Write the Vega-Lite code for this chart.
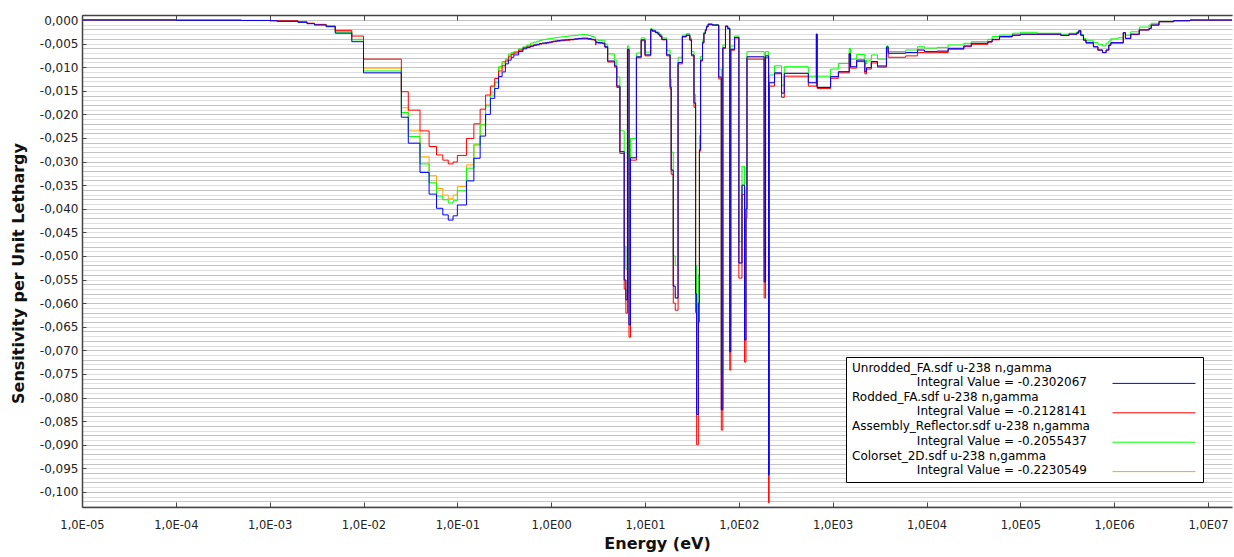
{
  "$schema": "https://vega.github.io/schema/vega-lite/v6.json",
  "width": 1150,
  "height": 492,
  "autosize": {"type": "none"},
  "padding": {"left": 82, "top": 15, "right": 2, "bottom": 50},
  "background": "white",
  "config": {
    "font": "DejaVu Sans",
    "view": {"stroke": null},
    "style": {"guide-label": {"lineHeight": 14.6}}
  },
  "data": {"values": [
    {"e": 1e-5, "B": 0, "R": 0, "G": 0, "O": 0},
    {"e": 1e-4, "B": -0.00007, "R": -0.00002, "G": -0.00006, "O": -0.00006},
    {"e": 5e-4, "B": -0.0001, "R": -0.0001, "G": -0.0001, "O": -0.0001},
    {"e": 1e-3, "B": -0.00015, "R": -0.00012, "G": -0.00015, "O": -0.00015},
    {"e": 1.2e-3, "B": -0.00028, "R": -0.00015, "G": -0.00026, "O": -0.00026},
    {"e": 2e-3, "B": -0.00049, "R": -0.00038, "G": -0.00045, "O": -0.00045},
    {"e": 2.5e-3, "B": -0.00078, "R": -0.00068, "G": -0.00074, "O": -0.00074},
    {"e": 3e-3, "B": -0.00106, "R": -0.00092, "G": -0.001, "O": -0.001},
    {"e": 4e-3, "B": -0.00142, "R": -0.00127, "G": -0.00138, "O": -0.00138},
    {"e": 5e-3, "B": -0.0028, "R": -0.0022, "G": -0.0026, "O": -0.00245},
    {"e": 7.5e-3, "B": -0.0046, "R": -0.0034, "G": -0.0042, "O": -0.0041},
    {"e": 0.01, "B": -0.0112, "R": -0.0083, "G": -0.0108, "O": -0.0102},
    {"e": 0.0253, "B": -0.0206, "R": -0.0152, "G": -0.0196, "O": -0.0186},
    {"e": 0.03, "B": -0.0261, "R": -0.0191, "G": -0.0247, "O": -0.0235},
    {"e": 0.04, "B": -0.0323, "R": -0.0235, "G": -0.0305, "O": -0.029},
    {"e": 0.05, "B": -0.0369, "R": -0.0268, "G": -0.0345, "O": -0.033},
    {"e": 0.06, "B": -0.0399, "R": -0.0286, "G": -0.0373, "O": -0.0357},
    {"e": 0.07, "B": -0.0413, "R": -0.0297, "G": -0.0381, "O": -0.0371},
    {"e": 0.08, "B": -0.0424, "R": -0.0305, "G": -0.0388, "O": -0.0379},
    {"e": 0.09, "B": -0.0415, "R": -0.0301, "G": -0.0383, "O": -0.0371},
    {"e": 0.1, "B": -0.0392, "R": -0.0287, "G": -0.0362, "O": -0.0353},
    {"e": 0.125, "B": -0.0341, "R": -0.0251, "G": -0.0314, "O": -0.0307},
    {"e": 0.15, "B": -0.0293, "R": -0.022, "G": -0.0265, "O": -0.0263},
    {"e": 0.175, "B": -0.0246, "R": -0.0189, "G": -0.0222, "O": -0.0222},
    {"e": 0.2, "B": -0.02, "R": -0.0159, "G": -0.0182, "O": -0.018},
    {"e": 0.225, "B": -0.0166, "R": -0.014, "G": -0.0159, "O": -0.0153},
    {"e": 0.25, "B": -0.0145, "R": -0.0124, "G": -0.0133, "O": -0.0131},
    {"e": 0.275, "B": -0.012, "R": -0.0108, "G": -0.0099, "O": -0.0102},
    {"e": 0.3, "B": -0.011, "R": -0.0097, "G": -0.0088, "O": -0.0091},
    {"e": 0.325, "B": -0.0093, "R": -0.0087, "G": -0.0083, "O": -0.0085},
    {"e": 0.35, "B": -0.0085, "R": -0.0078, "G": -0.0072, "O": -0.0075},
    {"e": 0.375, "B": -0.0079, "R": -0.0073, "G": -0.0069, "O": -0.0071},
    {"e": 0.4, "B": -0.0074, "R": -0.007, "G": -0.0067, "O": -0.0069},
    {"e": 0.45, "B": -0.0067, "R": -0.0064, "G": -0.0061, "O": -0.0063},
    {"e": 0.5, "B": -0.0061, "R": -0.0059, "G": -0.0057, "O": -0.0058},
    {"e": 0.55, "B": -0.0058, "R": -0.0057, "G": -0.0053, "O": -0.0055},
    {"e": 0.6, "B": -0.0055, "R": -0.0056, "G": -0.0049, "O": -0.0053},
    {"e": 0.65, "B": -0.0053, "R": -0.0054, "G": -0.0047, "O": -0.0052},
    {"e": 0.7, "B": -0.00515, "R": -0.0053, "G": -0.0045, "O": -0.00515},
    {"e": 0.75, "B": -0.005, "R": -0.0051, "G": -0.0043, "O": -0.005},
    {"e": 0.8, "B": -0.0049, "R": -0.005, "G": -0.0042, "O": -0.0049},
    {"e": 0.85, "B": -0.00485, "R": -0.005, "G": -0.0041, "O": -0.00485},
    {"e": 0.9, "B": -0.00475, "R": -0.0049, "G": -0.004, "O": -0.00475},
    {"e": 0.95, "B": -0.0047, "R": -0.0048, "G": -0.00395, "O": -0.0047},
    {"e": 1.0, "B": -0.0046, "R": -0.0047, "G": -0.0039, "O": -0.0046},
    {"e": 1.05, "B": -0.0045, "R": -0.0046, "G": -0.0038, "O": -0.0045},
    {"e": 1.1, "B": -0.00445, "R": -0.0046, "G": -0.00375, "O": -0.00445},
    {"e": 1.15, "B": -0.0044, "R": -0.0045, "G": -0.0037, "O": -0.0044},
    {"e": 1.2, "B": -0.00435, "R": -0.0045, "G": -0.00365, "O": -0.00435},
    {"e": 1.25, "B": -0.0043, "R": -0.0044, "G": -0.0036, "O": -0.0043},
    {"e": 1.3, "B": -0.00425, "R": -0.0044, "G": -0.00355, "O": -0.00425},
    {"e": 1.4, "B": -0.0042, "R": -0.0043, "G": -0.0035, "O": -0.0042},
    {"e": 1.5, "B": -0.00415, "R": -0.0043, "G": -0.0034, "O": -0.00415},
    {"e": 1.59, "B": -0.0041, "R": -0.0042, "G": -0.00335, "O": -0.0041},
    {"e": 1.77, "B": -0.004, "R": -0.0041, "G": -0.00325, "O": -0.004},
    {"e": 1.94, "B": -0.0039, "R": -0.004, "G": -0.00315, "O": -0.0039},
    {"e": 2.12, "B": -0.00385, "R": -0.004, "G": -0.00305, "O": -0.00385},
    {"e": 2.3, "B": -0.00385, "R": -0.004, "G": -0.0031, "O": -0.00385},
    {"e": 2.47, "B": -0.00395, "R": -0.0041, "G": -0.0033, "O": -0.00395},
    {"e": 2.67, "B": -0.0041, "R": -0.0042, "G": -0.0035, "O": -0.0041},
    {"e": 2.87, "B": -0.0042, "R": -0.0043, "G": -0.00375, "O": -0.0042},
    {"e": 2.97, "B": -0.0044, "R": -0.0053, "G": -0.004, "O": -0.0044},
    {"e": 3.0, "B": -0.0047, "R": -0.0048, "G": -0.0042, "O": -0.0047},
    {"e": 3.15, "B": -0.0048, "R": -0.0049, "G": -0.0043, "O": -0.0048},
    {"e": 3.5, "B": -0.0049, "R": -0.005, "G": -0.0044, "O": -0.0049},
    {"e": 3.73, "B": -0.00566, "R": -0.0058, "G": -0.0051, "O": -0.00566},
    {"e": 4.0, "B": -0.0087, "R": -0.0089, "G": -0.0072, "O": -0.0087},
    {"e": 4.75, "B": -0.00975, "R": -0.01, "G": -0.0085, "O": -0.00975},
    {"e": 5.0, "B": -0.014, "R": -0.0143, "G": -0.0121, "O": -0.014},
    {"e": 5.4, "B": -0.0279, "R": -0.0283, "G": -0.0235, "O": -0.0279},
    {"e": 6.0, "B": -0.0551, "R": -0.057, "G": -0.048, "O": -0.0551},
    {"e": 6.25, "B": -0.0593, "R": -0.0621, "G": -0.0528, "O": -0.0593},
    {"e": 6.5, "B": -0.0062, "R": -0.0063, "G": -0.0055, "O": -0.0062},
    {"e": 6.75, "B": -0.0646, "R": -0.0672, "G": -0.058, "O": -0.0646},
    {"e": 7.0, "B": -0.0292, "R": -0.0297, "G": -0.0251, "O": -0.0292},
    {"e": 8.1, "B": -0.0078, "R": -0.008, "G": -0.007, "O": -0.0078},
    {"e": 9.1, "B": -0.0042, "R": -0.0044, "G": -0.0038, "O": -0.0042},
    {"e": 10, "B": -0.0074, "R": -0.0076, "G": -0.0068, "O": -0.0074},
    {"e": 11.5, "B": -0.002, "R": -0.0021, "G": -0.0018, "O": -0.002},
    {"e": 11.9, "B": -0.0023, "R": -0.0024, "G": -0.0021, "O": -0.0023},
    {"e": 12.9, "B": -0.00265, "R": -0.0027, "G": -0.0024, "O": -0.00265},
    {"e": 13.75, "B": -0.003, "R": -0.0031, "G": -0.0027, "O": -0.003},
    {"e": 14.4, "B": -0.0034, "R": -0.0035, "G": -0.0031, "O": -0.0034},
    {"e": 15.1, "B": -0.0041, "R": -0.0042, "G": -0.0038, "O": -0.0041},
    {"e": 17, "B": -0.0074, "R": -0.0076, "G": -0.0064, "O": -0.0074},
    {"e": 18.5, "B": -0.0142, "R": -0.0146, "G": -0.0125, "O": -0.0142},
    {"e": 19, "B": -0.0318, "R": -0.0327, "G": -0.028, "O": -0.0318},
    {"e": 20, "B": -0.0564, "R": -0.06, "G": -0.05, "O": -0.0564},
    {"e": 21, "B": -0.0589, "R": -0.0615, "G": -0.052, "O": -0.0589},
    {"e": 22.5, "B": -0.009, "R": -0.0093, "G": -0.0079, "O": -0.009},
    {"e": 25, "B": -0.0035, "R": -0.0036, "G": -0.0032, "O": -0.0035},
    {"e": 27.5, "B": -0.0032, "R": -0.0033, "G": -0.0029, "O": -0.0032},
    {"e": 30, "B": -0.0042, "R": -0.0043, "G": -0.0038, "O": -0.0042},
    {"e": 31.25, "B": -0.0074, "R": -0.0076, "G": -0.0067, "O": -0.0074},
    {"e": 33.25, "B": -0.0176, "R": -0.0185, "G": -0.0158, "O": -0.0176},
    {"e": 34.6, "B": -0.058, "R": -0.062, "G": -0.052, "O": -0.058},
    {"e": 35.5, "B": -0.0836, "R": -0.09, "G": -0.0756, "O": -0.0836},
    {"e": 37, "B": -0.06, "R": -0.064, "G": -0.054, "O": -0.06},
    {"e": 38, "B": -0.0275, "R": -0.0278, "G": -0.0245, "O": -0.0275},
    {"e": 39.1, "B": -0.0085, "R": -0.0087, "G": -0.0077, "O": -0.0085},
    {"e": 41, "B": -0.0048, "R": -0.0049, "G": -0.0044, "O": -0.0048},
    {"e": 42.4, "B": -0.0028, "R": -0.0029, "G": -0.0026, "O": -0.0028},
    {"e": 44, "B": -0.0021, "R": -0.0022, "G": -0.0019, "O": -0.0021},
    {"e": 45.2, "B": -0.0014, "R": -0.0015, "G": -0.0012, "O": -0.0014},
    {"e": 47, "B": -0.0009, "R": -0.001, "G": -0.0008, "O": -0.0009},
    {"e": 52, "B": -0.00106, "R": -0.0011, "G": -0.001, "O": -0.00106},
    {"e": 61, "B": -0.0121, "R": -0.0125, "G": -0.0104, "O": -0.0121},
    {"e": 65, "B": -0.0826, "R": -0.0869, "G": -0.075, "O": -0.0826},
    {"e": 67.5, "B": -0.0059, "R": -0.006, "G": -0.0053, "O": -0.0059},
    {"e": 72, "B": -0.0013, "R": -0.0014, "G": -0.0012, "O": -0.0013},
    {"e": 76, "B": -0.0018, "R": -0.0019, "G": -0.0016, "O": -0.0018},
    {"e": 80, "B": -0.0703, "R": -0.0742, "G": -0.065, "O": -0.0703},
    {"e": 82, "B": -0.0062, "R": -0.0064, "G": -0.0055, "O": -0.0062},
    {"e": 90, "B": -0.0037, "R": -0.0038, "G": -0.0034, "O": -0.0037},
    {"e": 100, "B": -0.0515, "R": -0.0547, "G": -0.047, "O": -0.0515},
    {"e": 108, "B": -0.035, "R": -0.037, "G": -0.031, "O": -0.035},
    {"e": 115, "B": -0.0678, "R": -0.0725, "G": -0.06, "O": -0.0678},
    {"e": 119, "B": -0.04, "R": -0.042, "G": -0.036, "O": -0.04},
    {"e": 122, "B": -0.0078, "R": -0.0083, "G": -0.0067, "O": -0.0078},
    {"e": 186, "B": -0.0555, "R": -0.0589, "G": -0.05, "O": -0.0555},
    {"e": 192.5, "B": -0.0076, "R": -0.008, "G": -0.0067, "O": -0.0076},
    {"e": 207.5, "B": -0.0964, "R": -0.1023, "G": -0.088, "O": -0.0964},
    {"e": 210, "B": -0.0133, "R": -0.014, "G": -0.01165, "O": -0.0133},
    {"e": 240, "B": -0.0112, "R": -0.0114, "G": -0.0097, "O": -0.0112},
    {"e": 285, "B": -0.0155, "R": -0.0164, "G": -0.0138, "O": -0.0155},
    {"e": 305, "B": -0.0113, "R": -0.0119, "G": -0.0099, "O": -0.0113},
    {"e": 550, "B": -0.0133, "R": -0.014, "G": -0.0119, "O": -0.0133},
    {"e": 670, "B": -0.003, "R": -0.003, "G": -0.003, "O": -0.003},
    {"e": 683, "B": -0.0143, "R": -0.0145, "G": -0.0119, "O": -0.0143},
    {"e": 950, "B": -0.012, "R": -0.01235, "G": -0.0104, "O": -0.012},
    {"e": 1150, "B": -0.01095, "R": -0.0112, "G": -0.0092, "O": -0.01095},
    {"e": 1500, "B": -0.0071, "R": -0.0073, "G": -0.006, "O": -0.0071},
    {"e": 1550, "B": -0.0099, "R": -0.0102, "G": -0.0083, "O": -0.0099},
    {"e": 1800, "B": -0.0085, "R": -0.0088, "G": -0.0073, "O": -0.0085},
    {"e": 2200, "B": -0.01095, "R": -0.0114, "G": -0.0093, "O": -0.01095},
    {"e": 2290, "B": -0.0101, "R": -0.0104, "G": -0.0085, "O": -0.0101},
    {"e": 2580, "B": -0.0088, "R": -0.0091, "G": -0.0074, "O": -0.0088},
    {"e": 3000, "B": -0.00975, "R": -0.01, "G": -0.0083, "O": -0.00975},
    {"e": 3740, "B": -0.0057, "R": -0.006, "G": -0.0055, "O": -0.0057},
    {"e": 3900, "B": -0.00705, "R": -0.0079, "G": -0.0067, "O": -0.00705},
    {"e": 6000, "B": -0.0069, "R": -0.0076, "G": -0.00636, "O": -0.0069},
    {"e": 8030, "B": -0.00636, "R": -0.0069, "G": -0.00566, "O": -0.00636},
    {"e": 9500, "B": -0.0067, "R": -0.00695, "G": -0.00595, "O": -0.0067},
    {"e": 13000, "B": -0.0066, "R": -0.0069, "G": -0.0058, "O": -0.0066},
    {"e": 17000, "B": -0.006, "R": -0.0062, "G": -0.0053, "O": -0.006},
    {"e": 25000, "B": -0.0055, "R": -0.00566, "G": -0.00494, "O": -0.0055},
    {"e": 30000, "B": -0.00494, "R": -0.00515, "G": -0.0046, "O": -0.00494},
    {"e": 45000, "B": -0.0046, "R": -0.0047, "G": -0.0041, "O": -0.0046},
    {"e": 50000, "B": -0.0041, "R": -0.0042, "G": -0.0035, "O": -0.0041},
    {"e": 60000, "B": -0.0035, "R": -0.0036, "G": -0.0032, "O": -0.0035},
    {"e": 82000, "B": -0.0032, "R": -0.00325, "G": -0.0028, "O": -0.0032},
    {"e": 100000, "B": -0.003, "R": -0.00305, "G": -0.0026, "O": -0.003},
    {"e": 150000, "B": -0.003, "R": -0.00305, "G": -0.0028, "O": -0.003},
    {"e": 270000, "B": -0.00325, "R": -0.0033, "G": -0.003, "O": -0.00325},
    {"e": 330000, "B": -0.003, "R": -0.00305, "G": -0.0028, "O": -0.003},
    {"e": 400000, "B": -0.0027, "R": -0.0028, "G": -0.0025, "O": -0.0027},
    {"e": 420000, "B": -0.00227, "R": -0.0023, "G": -0.00227, "O": -0.00227},
    {"e": 440000, "B": -0.0032, "R": -0.0033, "G": -0.0031, "O": -0.0032},
    {"e": 470000, "B": -0.00424, "R": -0.0043, "G": -0.0039, "O": -0.00424},
    {"e": 500000, "B": -0.0048, "R": -0.0049, "G": -0.0044, "O": -0.0048},
    {"e": 600000, "B": -0.00566, "R": -0.0057, "G": -0.0048, "O": -0.00566},
    {"e": 670000, "B": -0.00636, "R": -0.0064, "G": -0.00515, "O": -0.00636},
    {"e": 750000, "B": -0.0069, "R": -0.0069, "G": -0.0055, "O": -0.0069},
    {"e": 820000, "B": -0.00636, "R": -0.0064, "G": -0.0049, "O": -0.00636},
    {"e": 875000, "B": -0.0053, "R": -0.0054, "G": -0.00445, "O": -0.0053},
    {"e": 920000, "B": -0.0048, "R": -0.0049, "G": -0.004, "O": -0.0048},
    {"e": 1100000, "B": -0.0048, "R": -0.0049, "G": -0.00375, "O": -0.0048},
    {"e": 1250000, "B": -0.0027, "R": -0.0027, "G": -0.0027, "O": -0.0027},
    {"e": 1317000, "B": -0.0039, "R": -0.0039, "G": -0.0032, "O": -0.0039},
    {"e": 1500000, "B": -0.003, "R": -0.0031, "G": -0.0025, "O": -0.003},
    {"e": 1850000, "B": -0.0021, "R": -0.0021, "G": -0.0015, "O": -0.0021},
    {"e": 2354000, "B": -0.00176, "R": -0.0018, "G": -0.00106, "O": -0.00176},
    {"e": 2479000, "B": -0.00106, "R": -0.0011, "G": -0.0007, "O": -0.00106},
    {"e": 3000000, "B": -0.00036, "R": -0.00036, "G": -0.0003, "O": -0.00036},
    {"e": 4304000, "B": -0.00015, "R": -0.00015, "G": -0.00015, "O": -0.00015},
    {"e": 6434000, "B": -0.00002, "R": -0.00002, "G": -0.00002, "O": -0.00002},
    {"e": 20000000, "B": -0.00002, "R": -0.00002, "G": -0.00002, "O": -0.00002}
  ]},
  "transform": [{"fold": ["O", "G", "R", "B"], "as": ["series", "value"]}],
  "encoding": {
    "x": {"field": "e", "type": "quantitative", "scale": {"type": "log", "domain": [1e-5, 1.8e7], "nice": false}, "axis": null},
    "y": {
      "field": "value", "type": "quantitative",
      "scale": {"domain": [-0.1032, 0.00106], "nice": false, "zero": false},
      "axis": {
        "values": [0.001, 0, -0.001, -0.002, -0.003, -0.004, -0.005, -0.006, -0.007, -0.008, -0.009, -0.01, -0.011, -0.012, -0.013, -0.014, -0.015, -0.016, -0.017, -0.018, -0.019, -0.02, -0.021, -0.022, -0.023, -0.024, -0.025, -0.026, -0.027, -0.028, -0.029, -0.03, -0.031, -0.032, -0.033, -0.034, -0.035, -0.036, -0.037, -0.038, -0.039, -0.04, -0.041, -0.042, -0.043, -0.044, -0.045, -0.046, -0.047, -0.048, -0.049, -0.05, -0.051, -0.052, -0.053, -0.054, -0.055, -0.056, -0.057, -0.058, -0.059, -0.06, -0.061, -0.062, -0.063, -0.064, -0.065, -0.066, -0.067, -0.068, -0.069, -0.07, -0.071, -0.072, -0.073, -0.074, -0.075, -0.076, -0.077, -0.078, -0.079, -0.08, -0.081, -0.082, -0.083, -0.084, -0.085, -0.086, -0.087, -0.088, -0.089, -0.09, -0.091, -0.092, -0.093, -0.094, -0.095, -0.096, -0.097, -0.098, -0.099, -0.1, -0.101, -0.102, -0.103],
        "labelExpr": "abs(round(datum.value*1000)) % 5 == 0 ? replace(replace(format(datum.value, '.3f'), '.', ','), '\u2212', '-') : ''",
        "labelOverlap": false,
        "labelFlush": false,
        "labelBound": false,
        "labelFontSize": 12,
        "labelColor": "#222",
        "labelPadding": 8,
        "tickSize": -4,
        "tickColor": {"condition": {"test": "abs(round(datum.value*1000)) % 5 != 0", "value": "transparent"}, "value": "#444"},
        "domainColor": "#444",
        "domainWidth": 1.5,
        "grid": true,
        "gridColor": {"condition": {"test": "abs(round(datum.value*1000)) % 2 == 0", "value": "#c4c4c4"}, "value": "#dedede"},
        "gridWidth": 1.2,
        "title": "Sensitivity per Unit Lethargy",
        "titleFontSize": 16,
        "titleFontWeight": "bold",
        "titleColor": "#111",
        "titleX": -59,
        "titleY": 258,
        "titleBaseline": "alphabetic"
      }
    },
    "color": {
      "field": "series", "type": "nominal",
      "scale": {"domain": ["B", "R", "G", "O"], "range": ["#0000ff", "#ff0000", "#00ff00", "#ffa500"]},
      "legend": {
        "title": null,
        "orient": "none",
        "legendX": 764,
        "legendY": 342,
        "direction": "vertical",
        "strokeColor": "#000",
        "fillColor": "#fff",
        "padding": 5,
        "cornerRadius": 0,
        "symbolType": "M-3.458,0.742H3.458",
        "symbolSize": 576,
        "symbolStrokeWidth": 1,
        "symbolFillColor": "transparent",
        "symbolOffset": 290.5,
        "labelOffset": -314.5,
        "labelFontSize": 12,
        "labelColor": "#000",
        "labelLimit": 0,
        "labelBaseline": "bottom",
        "rowPadding": 1.4,
        "labelExpr": "datum.label == 'B' ? ['Unrodded_FA.sdf u-238 n,gamma', '\u200b\u00a0\u00a0\u00a0\u00a0\u00a0\u00a0\u00a0\u00a0\u00a0\u00a0\u00a0\u00a0\u00a0\u00a0\u00a0\u00a0\u00a0Integral Value = -0.2302067'] : datum.label == 'R' ? ['Rodded_FA.sdf u-238 n,gamma', '\u200b\u00a0\u00a0\u00a0\u00a0\u00a0\u00a0\u00a0\u00a0\u00a0\u00a0\u00a0\u00a0\u00a0\u00a0\u00a0\u00a0\u00a0Integral Value = -0.2128141'] : datum.label == 'G' ? ['Assembly_Reflector.sdf u-238 n,gamma', '\u200b\u00a0\u00a0\u00a0\u00a0\u00a0\u00a0\u00a0\u00a0\u00a0\u00a0\u00a0\u00a0\u00a0\u00a0\u00a0\u00a0\u00a0Integral Value = -0.2055437'] : ['Colorset_2D.sdf u-238 n,gamma', '\u200b\u00a0\u00a0\u00a0\u00a0\u00a0\u00a0\u00a0\u00a0\u00a0\u00a0\u00a0\u00a0\u00a0\u00a0\u00a0\u00a0\u00a0Integral Value = -0.2230549']"
      }
    }
  },
  "layer": [
    {
      "transform": [{"filter": "datum.series == 'O'"}],
      "mark": {"type": "line", "interpolate": "step-after", "strokeWidth": 1, "clip": true},
      "encoding": {
        "x": {"field": "e", "type": "quantitative", "scale": {"type": "log", "domain": [1e-5, 1.8e7], "nice": false},
          "axis": {
            "orient": "bottom",
            "values": [1e-5, 1e-4, 1e-3, 1e-2, 1e-1, 1, 10, 100, 1000, 10000, 100000, 1000000, 10000000],
            "labelExpr": "'1,0E' + (round(log(datum.value)/LN10) < 0 ? '-' : '') + (abs(round(log(datum.value)/LN10)) < 10 ? '0' : '') + abs(round(log(datum.value)/LN10))",
            "labelOverlap": false,
            "labelFlush": false,
            "labelBound": false,
            "labelFontSize": 11.5,
            "labelColor": "#222",
            "labelPadding": 17,
            "tickSize": -5,
            "tickColor": "#444",
            "domainColor": "#444",
            "domainWidth": 1.5,
            "grid": false,
            "title": "Energy (eV)",
            "titleFontSize": 16,
            "titleFontWeight": "bold",
            "titleColor": "#111",
            "titlePadding": 5
          }
        }
      }
    },
    {
      "transform": [{"filter": "datum.series == 'G'"}],
      "mark": {"type": "line", "interpolate": "step-after", "strokeWidth": 1, "clip": true},
      "encoding": {
        "x": {"field": "e", "type": "quantitative", "scale": {"type": "log", "domain": [1e-5, 1.8e7], "nice": false},
          "axis": {
            "orient": "top",
            "values": [1e-5, 1e-4, 1e-3, 1e-2, 1e-1, 1, 10, 100, 1000, 10000, 100000, 1000000, 10000000],
            "labels": false,
            "tickSize": -5,
            "tickColor": "#444",
            "domainColor": "#444",
            "domainWidth": 1.5,
            "grid": false,
            "title": null
          }
        }
      }
    },
    {
      "transform": [{"filter": "datum.series == 'R'"}],
      "mark": {"type": "line", "interpolate": "step-after", "strokeWidth": 1, "clip": true}
    },
    {
      "transform": [{"filter": "datum.series == 'B'"}],
      "mark": {"type": "line", "interpolate": "step-after", "strokeWidth": 1, "clip": true}
    }
  ],
  "resolve": {"axis": {"x": "independent"}}
}
